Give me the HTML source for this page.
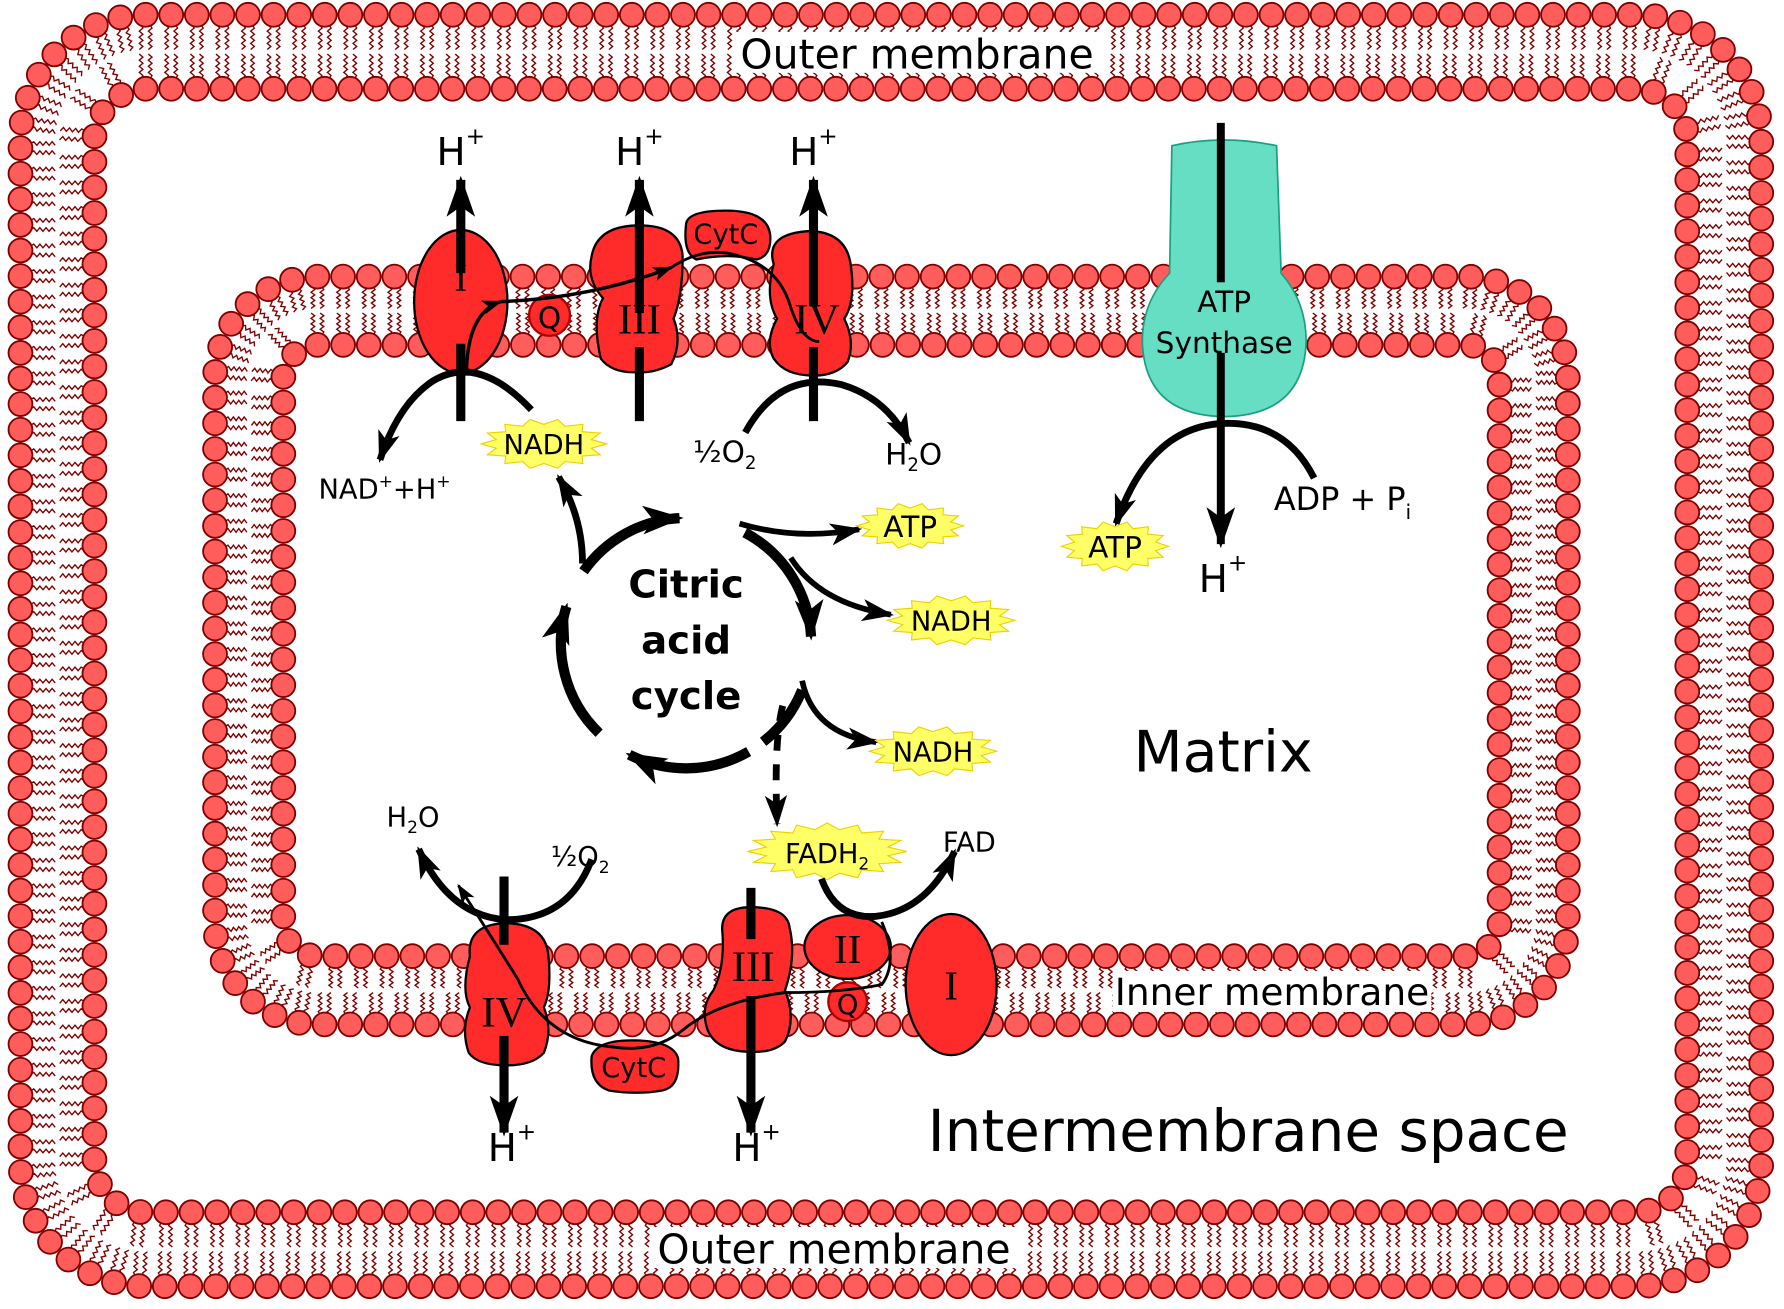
<!DOCTYPE html>
<html><head><meta charset="utf-8"><style>
html,body{margin:0;padding:0;background:#fff}
svg{display:block}
text{font-family:"DejaVu Sans","Liberation Sans",sans-serif}
.s{font-family:"Liberation Serif","DejaVu Serif",serif}
</style></head><body>
<svg id="g" width="1784" height="1309" viewBox="0 0 1568 1150" preserveAspectRatio="none" xmlns="http://www.w3.org/2000/svg">
<defs>
<marker id="ah" viewBox="0 0 10 10" refX="9" refY="5" markerWidth="36" markerHeight="36" orient="auto" markerUnits="userSpaceOnUse"><path d="M0,1.5 L10,5 L0,8.5 L2.5,5z" fill="#000"/></marker>
<marker id="am" viewBox="0 0 10 10" refX="9" refY="5" markerWidth="28" markerHeight="28" orient="auto" markerUnits="userSpaceOnUse"><path d="M0,1.5 L10,5 L0,8.5 L2.5,5z" fill="#000"/></marker>
<marker id="ahs" viewBox="0 0 10 10" refX="9" refY="5" markerWidth="18" markerHeight="18" orient="auto" markerUnits="userSpaceOnUse"><path d="M0,1.5 L10,5 L0,8.5 L2.5,5z" fill="#000"/></marker>
</defs>
<g id="mem"></g>
<g id="fg"></g>
</svg>
<script>
var NS="http://www.w3.org/2000/svg";
function el(p,tag,a,txt){var e=document.createElementNS(NS,tag);for(var k in a)e.setAttribute(k,a[k]);if(txt!=null)e.textContent=txt;p.appendChild(e);return e;}
var mem=document.getElementById('mem');
function rr(x,y,w,h,r){return "M"+(x+r)+","+y+" H"+(x+w-r)+" A"+r+","+r+" 0 0 1 "+(x+w)+","+(y+r)+" V"+(y+h-r)+" A"+r+","+r+" 0 0 1 "+(x+w-r)+","+(y+h)+" H"+(x+r)+" A"+r+","+r+" 0 0 1 "+x+","+(y+h-r)+" V"+(y+r)+" A"+r+","+r+" 0 0 1 "+(x+r)+","+y+"Z";}
function layer(x,y,w,h,r,sp,dir,half,tails,heads){
  var p=el(mem,'path',{d:rr(x,y,w,h,r),fill:'none'});
  var L=p.getTotalLength(),n=Math.round(L/sp),st=L/n;
  for(var i=0;i<n;i++){
    var a=p.getPointAtLength(i*st),b=p.getPointAtLength((i*st+0.5)%L);
    var tx=b.x-a.x,ty=b.y-a.y,m=Math.hypot(tx,ty);tx/=m;ty/=m;
    var nx=-ty*dir,ny=tx*dir;
    for(var s=-1;s<=1;s+=2){
      var ox=a.x+tx*s*4,oy=a.y+ty*s*4,d="M"+(ox+nx*9)+","+(oy+ny*9);
      var seg=8;
      for(var k=1;k<=seg;k++){var t=9+(half-11)*k/seg,z=(k%2?1.6:-1.6);d+=" L"+(ox+nx*t+tx*z)+","+(oy+ny*t+ty*z);}
      el(tails,'path',{d:d,fill:'none',stroke:'#800000','stroke-width':1.2});
    }
    el(heads,'circle',{cx:a.x,cy:a.y,r:10.5,fill:'#ff5c5c',stroke:'#800000','stroke-width':1.6});
  }
}
function membrane(x,y,w,h,r,th,sp){
  var tails=el(mem,'g',{}),heads=el(mem,'g',{});
  layer(x,y,w,h,r,sp,1,th/2,tails,heads);
  layer(x+th,y+th,w-2*th,h-2*th,r-th,sp,-1,th/2,tails,heads);
}
membrane(18,13,1530,1117,110,65,22.5);
membrane(189,243,1189,657,90,60,22.5);

var fg=document.getElementById('fg');
function star(cx,cy,rx,ry,n){var pts=[];for(var i=0;i<2*n;i++){var a=Math.PI*i/n,f=i%2?0.78:1;pts.push((cx+Math.cos(a)*rx*f).toFixed(1)+","+(cy+Math.sin(a)*ry*f).toFixed(1));}
 el(fg,'polygon',{points:pts.join(' '),fill:'#ffff66',stroke:'#f0d000','stroke-width':1});}
function T(x,y,s,t,extra){var a={x:x,y:y,'font-size':s,'text-anchor':'middle'};for(var k in extra)a[k]=extra[k];return el(fg,'text',a,t);}
function Hp(x,y,s){var t=T(x,y,s,'H');el(t,'tspan',{'font-size':s*0.6,dy:-s*0.55},'+');}
function P(d,w,m,extra){var a={d:d,fill:'none',stroke:'#000','stroke-width':w};if(m)a['marker-end']='url(#'+m+')';for(var k in extra)a[k]=extra[k];return el(fg,'path',a);}
var red={fill:'#ff2a2a',stroke:'#000','stroke-width':2};
function blob(d){el(fg,'path',Object.assign({d:d},red));}

el(fg,'rect',{x:645,y:28,width:322,height:36,fill:'#fff'});
el(fg,'rect',{x:572,y:1078,width:322,height:36,fill:'#fff'});
el(fg,'rect',{x:978,y:853,width:280,height:36,fill:'#fff'});
T(806,60,36,'Outer membrane');
T(733,1110,36,'Outer membrane');
T(1118,883,33,'Inner membrane');
T(1097,1011,51,'Intermembrane space');
T(1075,678,50,'Matrix');

// top chain
el(fg,'ellipse',Object.assign({cx:405,cy:265,rx:41,ry:63},red));
P("M405,370 V302",8);P("M405,240 V158",8,'ah');
T(405,255,34,'I',{'class':'s'});
Hp(405,145,34);
el(fg,'circle',{cx:483,cy:277,r:18,fill:'#ff2a2a',stroke:'#a00','stroke-width':2});
T(483,288,26,'Q');
blob("M520,225 Q525,198 562,198 Q598,198 600,225 Q600,260 592,280 Q600,300 590,320 Q575,328 560,327 Q538,328 528,315 Q520,280 530,262 Q515,245 520,225Z");
P("M562,370 V305",8);P("M562,275 V158",8,'ah');
T(562,293,38,'III',{'class':'s'});
Hp(562,145,34);
blob("M680,232 Q672,205 712,203 Q745,204 748,235 Q752,265 742,280 Q752,300 745,318 Q735,330 715,330 Q690,330 680,315 Q672,300 683,280 Q672,262 680,232Z");
P("M715,370 V305",8);P("M715,268 V158",8,'ah');
T(718,293,38,'IV',{'class':'s'});
Hp(715,145,34);
blob("M603,197 Q604,185 638,185 Q675,185 677,207 Q678,225 665,228 Q640,222 612,228 Q600,222 603,197Z");
T(638,214,24,'CytC');
P("M410,330 Q410,275 440,265",3,'ahs');
P("M440,265 Q520,262 590,235",3,'ahs');
P("M590,235 Q620,215 650,225 Q685,235 695,270 Q705,300 720,300",2.5);
P("M467,360 Q420,310 380,335 Q350,355 334,404",6,'am');
star(478,390,55,22,14);T(478,399,24,'NADH');
var t=T(338,438,24,'NAD');el(t,'tspan',{'font-size':15,dy:-10},'+');el(t,'tspan',{dy:10},'+H');el(t,'tspan',{'font-size':15,dy:-10},'+');
P("M655,380 Q685,325 740,338 Q780,350 799,389",6,'am');
t=T(637,406,26,'½O');el(t,'tspan',{'font-size':16,dy:6},'2');
t=T(803,408,26,'H');el(t,'tspan',{'font-size':16,dy:6},'2');el(t,'tspan',{dy:-6},'O');

// ATP synthase
el(fg,'path',{d:"M1030,128 Q1075,118 1122,128 L1126,240 Q1148,265 1148,300 Q1146,365 1076,366 Q1006,365 1004,300 Q1004,265 1028,240Z",fill:'#66dec4',stroke:'#1aa080','stroke-width':1.5});
P("M1073,108 V478",7,'ah');
el(fg,'rect',{x:1040,y:248,width:72,height:62,fill:'#66dec4'});
T(1076,274,26,'ATP');T(1076,310,26,'Synthase');
P("M1155,420 Q1130,370 1075,372 Q1010,375 981,460",6,'am');
t=T(1180,448,28,'ADP + P');el(t,'tspan',{'font-size':18,dy:8},'i');
star(980,480,47,22,14);T(980,490,26,'ATP');
Hp(1075,520,34);

// citric acid cycle
var cx=603,cy=565,R=110;
function arcp(a1,a2){var r=Math.PI/180;return "M"+(cx+R*Math.cos(a1*r))+","+(cy+R*Math.sin(a1*r))+" A"+R+","+R+" 0 0 1 "+(cx+R*Math.cos(a2*r))+","+(cy+R*Math.sin(a2*r));}
P(arcp(-145,-93),9,'ah');
P(arcp(-62,-3),9,'ah');
P(arcp(22,52),9);
P(arcp(60,117),9,'ah');
P(arcp(134,197),9,'ah');
T(603,525,34,'Citric',{'font-weight':'bold'});
T(603,574,34,'acid',{'font-weight':'bold'});
T(603,623,34,'cycle',{'font-weight':'bold'});
P("M512,495 Q512,455 491,419",6,'am');
P("M650,460 Q700,475 755,465",5,'am');
P("M695,490 Q720,530 783,540",5,'am');
P("M705,598 Q715,645 770,652",5,'am');
P("M688,620 Q680,650 683,724",6,'am',{'stroke-dasharray':'14,12'});
star(800,462,47,20,14);T(800,472,26,'ATP');
star(836,545,56,22,14);T(836,554,24,'NADH');
star(820,660,56,22,14);T(820,669,24,'NADH');

// bottom chain
t=T(363,726,24,'H');el(t,'tspan',{'font-size':15,dy:6},'2');el(t,'tspan',{dy:-6},'O');
t=T(510,761,24,'½O');el(t,'tspan',{'font-size':15,dy:6},'2');
P("M520,755 Q500,808 445,808 Q395,805 368,746",6,'am');
blob("M413,840 Q410,812 445,811 Q480,812 482,840 Q485,870 478,885 Q486,905 478,925 Q468,936 445,936 Q420,936 412,925 Q405,905 413,885 Q405,870 413,840Z");
P("M443,770 V830",8);P("M443,910 V995",8,'ah');
T(443,902,38,'IV',{'class':'s'});
Hp(450,1020,34);
blob("M520,928 Q525,914 555,914 Q592,914 596,930 Q598,955 582,958 Q560,962 535,958 Q518,952 520,928Z");
T(557,946,24,'CytC');
blob("M635,820 Q632,797 660,797 Q692,797 694,815 Q700,840 690,870 Q700,895 690,915 Q680,925 660,924 Q630,924 622,905 Q615,885 627,870 Q637,850 635,820Z");
P("M660,780 V825",8);P("M660,875 V995",8,'ah');
T(662,862,38,'III',{'class':'s'});
Hp(665,1020,34);
el(fg,'ellipse',Object.assign({cx:745,cy:832,rx:38,ry:28},red));
T(745,846,36,'II',{'class':'s'});
el(fg,'circle',{cx:745,cy:880,r:17,fill:'#ff2a2a',stroke:'#a00','stroke-width':2});
T(745,891,24,'Q');
el(fg,'ellipse',Object.assign({cx:836,cy:865,rx:40,ry:62},red));
T(836,878,36,'I',{'class':'s'});
P("M775,810 Q790,845 775,865 Q740,872 690,872 Q630,880 600,905 Q575,925 540,920 Q480,915 455,860 Q430,820 403,778",2.5,'ahs');
star(727,748,70,25,16);
t=T(727,758,24,'FADH');el(t,'tspan',{'font-size':15,dy:6},'2');
T(852,748,24,'FAD');
P("M722,772 Q735,808 770,805 Q815,800 839,748",6,'am');
</script>
</body></html>
